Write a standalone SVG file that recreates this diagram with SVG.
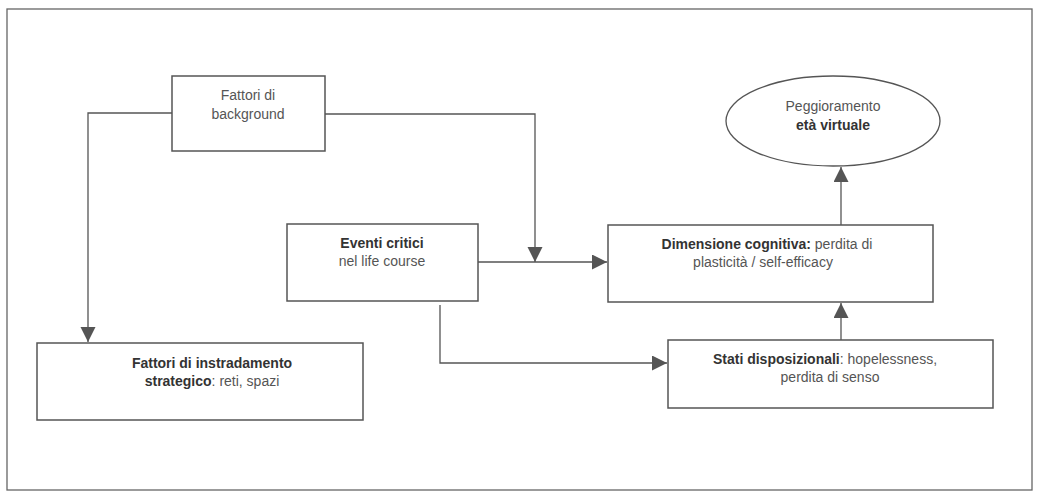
<svg xmlns="http://www.w3.org/2000/svg" width="1042" height="504" viewBox="0 0 1042 504">
<style>
.b{fill:#fff;stroke:#555;stroke-width:1.5}
text{font-family:"Liberation Sans",Arial,sans-serif;font-size:14px;fill:#555;text-anchor:middle}
.k{font-weight:bold;fill:#333}
.c{fill:none;stroke:#555;stroke-width:1.3}
</style>
<defs><marker id="a" markerWidth="16" markerHeight="16" refX="15" refY="7.5" orient="auto" markerUnits="userSpaceOnUse"><path d="M0,0 L15,7.5 L0,15 Z" fill="#555"/></marker></defs>
<rect x="0" y="0" width="1042" height="504" fill="#fff"/>
<rect x="7" y="9" width="1025" height="481" fill="#fff" stroke="#666" stroke-width="1.3"/>
<g id="connectors">
<path class="c" d="M172,113 H88 V342" marker-end="url(#a)"/>
<path class="c" d="M325,114 H535 V262" marker-end="url(#a)"/>
<path class="c" d="M478,262 H607" marker-end="url(#a)"/>
<path class="c" d="M440,305 V363 H667" marker-end="url(#a)"/>
<path class="c" d="M841,340 V303" marker-end="url(#a)"/>
<path class="c" d="M841,225 V167" marker-end="url(#a)"/>
</g>
<g id="background"><rect class="b" x="172" y="76" width="153" height="75"/><text x="248" y="100">Fattori di</text><text x="248" y="119">background</text></g>
<g id="instradamento"><rect class="b" x="37" y="343" width="326" height="77"/><text x="212" y="368" class="k">Fattori di instradamento</text><text x="212" y="386"><tspan class="k">strategico</tspan>: reti, spazi</text></g>
<g id="eventi"><rect class="b" x="287" y="224" width="191" height="77"/><text x="382" y="248" class="k">Eventi critici</text><text x="382" y="266">nel life course</text></g>
<g id="dimensione"><rect class="b" x="608" y="225" width="325" height="77"/><text x="767" y="249"><tspan class="k">Dimensione cognitiva:</tspan> perdita di</text><text x="763" y="267">plasticità / self-efficacy</text></g>
<g id="stati"><rect class="b" x="668" y="340" width="325" height="68"/><text x="825" y="364"><tspan class="k">Stati disposizionali</tspan>: hopelessness,</text><text x="830" y="382">perdita di senso</text></g>
<g id="peggioramento"><ellipse cx="833" cy="121" rx="107" ry="45" fill="#fff" stroke="#555" stroke-width="1.3"/><text x="833" y="111">Peggioramento</text><text x="833" y="130" class="k">età virtuale</text></g>
</svg>
